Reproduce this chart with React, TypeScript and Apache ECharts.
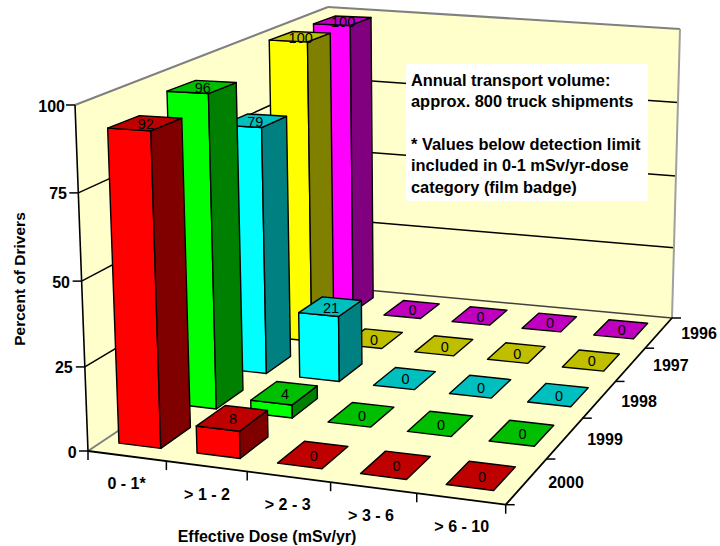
import React, { useEffect, useRef } from "react";
import * as echarts from "echarts";

const doseCategories = ["0 - 1*", "> 1 - 2", "> 2 - 3", "> 3 - 6", "> 6 - 10"];
const years = ["2000", "1999", "1998", "1997", "1996"];
const values2000 = [92, 8, 0, 0, 0];
const values1999 = [96, 4, 0, 0, 0];
const values1998 = [79, 21, 0, 0, 0];
const values1997 = [100, 0, 0, 0, 0];
const values1996 = [100, 0, 0, 0, 0];
const rows = [values2000, values1999, values1998, values1997, values1996];
const yTicks = [0, 25, 50, 75, 100];
const wallFractions = [0, 0.243, 0.491, 0.746, 1];
const frontColors = ["#FF0000", "#00FF00", "#00FFFF", "#FFFF00", "#FF00FF"];
const topColors = ["#BF0000", "#00BF00", "#00BFBF", "#BFBF00", "#BF00BF"];
const sideColors = ["#800000", "#008000", "#008080", "#808000", "#800080"];
const noteLines = [
  "Annual transport volume:",
  "approx. 800 truck shipments",
  "",
  "* Values below detection limit",
  "included in 0-1 mSv/yr-dose",
  "category (film badge)",
];

// Projection of the chart's box: floor corners and the tops of the wall corners
const A = [88, 451], B = [505.7, 504.7], C = [672, 318], D = [334, 287];
const topA = [75, 105], topD = [328, 7], topC = [680, 29];
const barTopA = [77, 107];
const dx1 = B[0] - C[0], dx2 = D[0] - C[0], sx = A[0] - B[0] + C[0] - D[0];
const dy1 = B[1] - C[1], dy2 = D[1] - C[1], sy = A[1] - B[1] + C[1] - D[1];
const den = dx1 * dy2 - dx2 * dy1;
const hg = (sx * dy2 - dx2 * sy) / den;
const hh = (dx1 * sy - sx * dy1) / den;
const ha = B[0] - A[0] + hg * B[0], hb = D[0] - A[0] + hh * D[0];
const hd = B[1] - A[1] + hg * B[1], he = D[1] - A[1] + hh * D[1];

// Least-squares fit of the homogeneous "up" vector to three corner heights
function fitUp(): [number, number, number] {
  const pts: [number[], number[], number][] = [
    [A, barTopA, 1],
    [D, topD, hh + 1],
    [C, topC, hg + hh + 1],
  ];
  const M = [[0, 0, 0, 0], [0, 0, 0, 0], [0, 0, 0, 0]];
  const add = (r: number[], b: number) => {
    for (let i = 0; i < 3; i++) {
      for (let k = 0; k < 3; k++) M[i][k] += r[i] * r[k];
      M[i][3] += r[i] * b;
    }
  };
  pts.forEach(([p, t, w]) => {
    add([1, 0, -t[0]], w * (t[0] - p[0]));
    add([0, 1, -t[1]], w * (t[1] - p[1]));
  });
  for (let i = 0; i < 3; i++) {
    for (let r = 0; r < 3; r++) {
      if (r === i) continue;
      const f = M[r][i] / M[i][i];
      for (let k = i; k < 4; k++) M[r][k] -= f * M[i][k];
    }
  }
  return [M[0][3] / M[0][0], M[1][3] / M[1][1], M[2][3] / M[2][2]];
}
const UP = fitUp();

// u, v in category / year units (0..5), w in percent
function project(u: number, v: number, w: number): [number, number] {
  const uu = u / 5, vv = v / 5, t = w / 100;
  const X = ha * uu + hb * vv + A[0] + t * UP[0];
  const Y = hd * uu + he * vv + A[1] + t * UP[1];
  const W = hg * uu + hh * vv + 1 + t * UP[2];
  return [X / W, Y / W];
}

const barData: number[][] = [];
for (let j = rows.length - 1; j >= 0; j--) {
  rows[j].forEach((value, i) => barData.push([i, j, value]));
}

const FONT = '"Liberation Sans", Arial, sans-serif';

function App() {
  const ref = useRef<HTMLDivElement>(null);
  useEffect(() => {
    const chart = echarts.init(ref.current!, undefined, { renderer: "svg" });

    const renderBar = (_p: any, api: any) => {
      const i = api.value(0), j = api.value(1), h = api.value(2);
      const pt = (u: number, v: number, w: number) => {
        const [x, y] = project(u, v, w);
        return api.coord([x, y]);
      };
      const u0 = i + 0.21, u1 = i + 0.75, v0 = j + 0.24, v1 = j + 0.76;
      const poly = (points: number[][], fill: string) => ({
        type: "polygon",
        shape: { points },
        style: { fill, stroke: "#000", lineWidth: 1.4, lineJoin: "round" },
      });
      const children: any[] = [];
      if (h > 0) {
        children.push(poly([pt(u0, v0, 0), pt(u1, v0, 0), pt(u1, v0, h), pt(u0, v0, h)], frontColors[j]));
        children.push(poly([pt(u1, v0, 0), pt(u1, v1, 0), pt(u1, v1, h), pt(u1, v0, h)], sideColors[j]));
      }
      children.push(poly([pt(u0, v0, h), pt(u1, v0, h), pt(u1, v1, h), pt(u0, v1, h)], topColors[j]));
      const c = pt(i + 0.49, j + 0.5, h);
      children.push({
        type: "text",
        style: { text: String(h), x: c[0], y: c[1] + 1, textAlign: "center", textVerticalAlign: "middle", font: `14.5px ${FONT}`, fill: "#000" },
      });
      return { type: "group", children };
    };

    const renderFrame = (_p: any, api: any) => {
      const pt = (u: number, v: number) => {
        const [x, y] = project(u, v, 0);
        return api.coord([x, y]);
      };
      // wall corner at a fraction of its height
      const wall = (b: number[], t: number[], f: number) =>
        api.coord([b[0] + (t[0] - b[0]) * f, b[1] + (t[1] - b[1]) * f]);
      const line = (a: number[], b: number[], stroke: string, lineWidth: number) => ({
        type: "line",
        shape: { x1: a[0], y1: a[1], x2: b[0], y2: b[1] },
        style: { stroke, lineWidth },
      });
      const fill = (points: number[][]) => ({ type: "polygon", shape: { points }, style: { fill: "#FFFFCC" } });
      const label = (text: string, x: number, y: number, align: string) => ({
        type: "text",
        style: { text, x, y, textAlign: align, textVerticalAlign: "middle", font: `bold 16px ${FONT}`, fill: "#000" },
      });
      const ch: any[] = [
        fill([pt(0, 0), pt(5, 0), pt(5, 5), pt(0, 5)]),
        fill([wall(A, topA, 0), wall(D, topD, 0), wall(D, topD, 1), wall(A, topA, 1)]),
        fill([wall(D, topD, 0), wall(C, topC, 0), wall(C, topC, 1), wall(D, topD, 1)]),
      ];
      wallFractions.slice(1, 4).forEach((f) => {
        ch.push(line(wall(A, topA, f), wall(D, topD, f), "#000", 1.5));
        ch.push(line(wall(D, topD, f), wall(C, topC, f), "#000", 1.5));
      });
      ch.push(line(wall(A, topA, 1), wall(D, topD, 1), "#808080", 2));
      ch.push(line(wall(D, topD, 1), wall(C, topC, 1), "#808080", 2));
      ch.push(line(wall(C, topC, 1), wall(C, topC, 0), "#A0A0A0", 2));
      ch.push(line(pt(0, 0), pt(0, 5), "#808080", 2));
      ch.push(line(pt(0, 5), pt(5, 5), "#404040", 1.5));
      ch.push(line(wall(A, topA, 0), wall(A, topA, 1), "#000", 1.6));
      ch.push(line(pt(0, 0), pt(5, 0), "#000", 1.8));
      ch.push(line(pt(5, 0), pt(5, 5), "#000", 1.8));
      const yRight = [76.7, 72.7, 70, 67, 65];
      yTicks.forEach((t, k) => {
        const p = wall(A, topA, wallFractions[k]);
        ch.push(line([p[0] - 9, p[1]], p, "#000", 1.5));
        ch.push(label(String(t), yRight[k], p[1] + 1, "right"));
      });
      const catLabelX = [126.5, 207, 287.7, 371, 461.7];
      const catLabelY = [483, 494, 504, 515, 526];
      for (let i = 0; i <= 5; i++) {
        const p = pt(i, 0);
        ch.push(line(p, [p[0], p[1] + 9], "#000", 1.5));
      }
      doseCategories.forEach((c, i) => ch.push(label(c, catLabelX[i], catLabelY[i], "center")));
      const yearX = [566, 605, 639, 670.8, 699];
      const yearY = [482, 439.7, 401, 365, 333];
      for (let j = 0; j <= 5; j++) {
        const p = pt(5, j);
        ch.push(line(p, [p[0] + 9, p[1]], "#000", 1.5));
      }
      years.forEach((y, j) => ch.push(label(y, yearX[j], yearY[j], "center")));
      ch.push({
        type: "text",
        style: { text: "Effective Dose (mSv/yr)", x: 267, y: 536, textAlign: "center", textVerticalAlign: "middle", font: `bold 16px ${FONT}`, fill: "#000" },
      });
      ch.push({
        type: "text",
        rotation: Math.PI / 2,
        x: 19,
        y: 279,
        style: { text: "Percent of Drivers", x: 0, y: 0, textAlign: "center", textVerticalAlign: "middle", font: `bold 15.5px ${FONT}`, fill: "#000" },
      });
      return { type: "group", children: ch };
    };

    chart.setOption({
      animation: false,
      backgroundColor: "#fff",
      grid: { left: 0, right: 0, top: 0, bottom: 0 },
      xAxis: { type: "value", min: 0, max: 720, show: false },
      yAxis: { type: "value", min: 0, max: 546, inverse: true, show: false },
      graphic: [
        { type: "rect", shape: { x: 406, y: 64, width: 242, height: 137 }, style: { fill: "#fff" }, z: 50 },
        ...noteLines.map((t, k) => ({
          type: "text",
          x: 411,
          y: 80 + k * 21.3,
          z: 51,
          style: { text: t, textVerticalAlign: "middle", font: `bold 16.4px ${FONT}`, fill: "#000" },
        })),
      ],
      series: [
        { type: "custom", data: [[0, 0]], renderItem: renderFrame, silent: true, clip: false, z: 1 },
        { type: "custom", data: barData, renderItem: renderBar, silent: true, clip: false, z: 2, encode: { x: 0, y: 1 } },
      ],
    });
    return () => chart.dispose();
  }, []);
  return <div ref={ref} style={{ position: "fixed", left: 0, top: 0, width: 720, height: 546 }} />;
}

export default App;
